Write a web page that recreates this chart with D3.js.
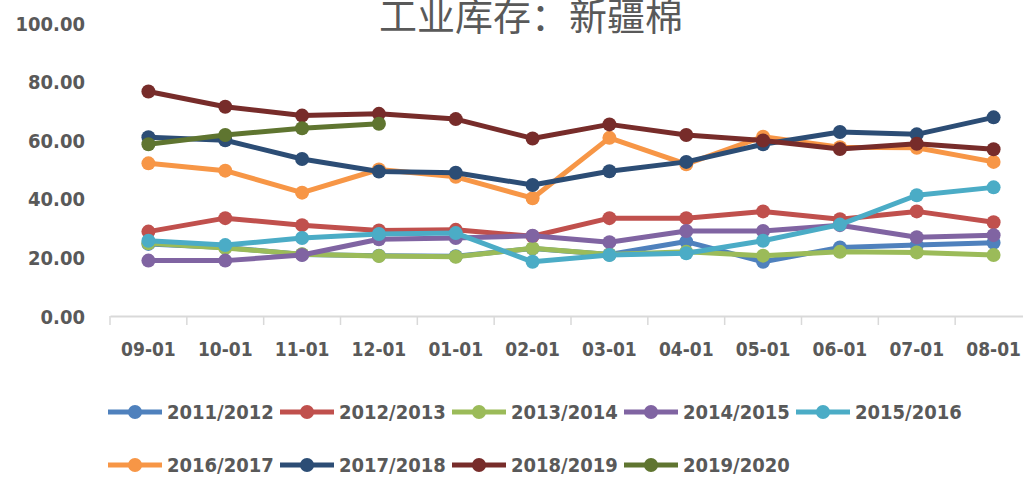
<!DOCTYPE html>
<html>
<head>
<meta charset="utf-8">
<script src="https://cdn.jsdelivr.net/npm/d3@7"></script>
<style>
  body { margin: 0; background: #fff; }
  svg text { font-family: "Liberation Sans Narrow", "DejaVu Sans Condensed", "Noto Sans", sans-serif; }
</style>
</head>
<body>
<svg id="chart" width="1023" height="479"></svg>
<script>
var months = ["09-01","10-01","11-01","12-01","01-01","02-01","03-01","04-01","05-01","06-01","07-01","08-01"];
var seasons = ["2011/2012","2012/2013","2013/2014","2014/2015","2015/2016","2016/2017","2017/2018","2018/2019","2019/2020"];
var colors = ["#4F81BD","#C0504D","#9BBB59","#8064A2","#4BACC6","#F79646","#2C4D75","#772C2A","#5F7530"];
var yTicks = [0, 20, 40, 60, 80, 100];

var s2011 = [24.6, 23.4, 21.0, 20.6, 20.4, 23.0, 21.0, 25.4, 18.5, 23.4, 24.2, 25.0];
var s2012 = [28.8, 33.4, 31.0, 29.2, 29.4, 27.2, 33.4, 33.4, 35.7, 33.0, 35.7, 32.0];
var s2013 = [24.8, 23.2, 21.1, 20.5, 20.2, 23.1, 21.0, 21.9, 20.6, 21.9, 21.7, 20.8];
var s2014 = [18.9, 18.9, 20.8, 26.2, 26.6, 27.4, 25.2, 29.0, 29.0, 31.0, 26.9, 27.6];
var s2015 = [25.7, 24.2, 26.6, 28.0, 28.3, 18.5, 20.8, 21.4, 25.7, 31.2, 41.2, 43.9];
var s2016 = [52.1, 49.6, 42.1, 50.0, 47.5, 40.2, 60.8, 51.8, 61.2, 57.6, 57.4, 52.6];
var s2017 = [61.0, 60.0, 53.6, 49.3, 48.9, 44.7, 49.4, 52.6, 58.6, 62.8, 62.0, 67.8];
var s2018 = [76.6, 71.4, 68.4, 69.0, 67.2, 60.6, 65.4, 61.8, 59.9, 57.0, 58.8, 56.9];
var s2019 = [58.6, 61.8, 64.1, 65.6];

var seriesValues = [s2011, s2012, s2013, s2014, s2015, s2016, s2017, s2018, s2019];

var svg = d3.select("#chart");

var x = d3.scaleBand()
    .domain(months)
    .range([110, 1032])
    .paddingInner(0)
    .paddingOuter(0);

var y = d3.scaleLinear()
    .domain([0, 100])
    .range([316, 23]);

function cx(i) { return x(months[i]) + x.bandwidth() / 2; }

// title (top is clipped in the original too)
svg.append("text")
    .attr("x", 531)
    .attr("y", 30)
    .attr("text-anchor", "middle")
    .attr("fill", "#595959")
    .style("font-family", "'Noto Sans CJK SC', sans-serif")
    .style("font-size", "38px")
    .text("工业库存：新疆棉");

// y axis labels
var yAxis = svg.append("g")
    .attr("transform", "translate(85,0)")
    .call(d3.axisLeft(y).tickValues(yTicks).tickFormat(d3.format(".2f")).tickSize(0).tickPadding(0));
yAxis.select(".domain").remove();
yAxis.selectAll("text")
    .attr("fill", "#595959")
    .attr("dy", "0.35em")
    .style("font-size", "20px")
    .style("font-weight", "bold")
    .style("font-family", "'Liberation Sans Narrow', 'DejaVu Sans Condensed', sans-serif");

// x axis
var xAxis = svg.append("g")
    .attr("transform", "translate(0,316)")
    .call(d3.axisBottom(x).tickSize(0).tickPadding(27));
xAxis.select(".domain").attr("stroke", "#D9D9D9").attr("stroke-width", 2);
xAxis.selectAll("text")
    .attr("fill", "#595959")
    .style("font-size", "19px")
    .style("font-weight", "bold")
    .style("font-family", "'Liberation Sans Narrow', 'DejaVu Sans Condensed', sans-serif");

// tick marks at category edges
xAxis.selectAll(".edge")
    .data(months.concat(["end"]))
    .enter().append("line")
    .attr("class", "edge")
    .attr("x1", function(d, i) { return i < months.length ? x(d) : x.range()[1]; })
    .attr("x2", function(d, i) { return i < months.length ? x(d) : x.range()[1]; })
    .attr("y1", 0)
    .attr("y2", 9)
    .attr("stroke", "#D9D9D9")
    .attr("stroke-width", 1.5);

var line = d3.line()
    .x(function(d, i) { return cx(i); })
    .y(function(d) { return y(d); });

// series: line then markers
seriesValues.forEach(function(vals, k) {
    var g = svg.append("g").attr("class", "series");
    g.append("path")
        .attr("d", line(vals))
        .attr("fill", "none")
        .attr("stroke", colors[k])
        .attr("stroke-width", 5)
        .attr("stroke-linejoin", "round");
    g.selectAll("circle")
        .data(vals)
        .enter().append("circle")
        .attr("cx", function(d, i) { return cx(i); })
        .attr("cy", function(d) { return y(d); })
        .attr("r", 7)
        .attr("fill", colors[k]);
});

// legend
var legend = svg.append("g");
var items = legend.selectAll(".item")
    .data(seasons)
    .enter().append("g")
    .attr("class", "item")
    .attr("transform", function(d, i) {
        var col = i < 5 ? i : i - 5;
        var row = i < 5 ? 0 : 1;
        return "translate(" + (108 + col * 172) + "," + (412 + row * 53) + ")";
    });
items.append("line")
    .attr("x1", 0).attr("x2", 54)
    .attr("y1", 0).attr("y2", 0)
    .attr("stroke", function(d, i) { return colors[i]; })
    .attr("stroke-width", 5);
items.append("circle")
    .attr("cx", 27).attr("cy", 0).attr("r", 7)
    .attr("fill", function(d, i) { return colors[i]; });
items.append("text")
    .attr("x", 59)
    .attr("y", 0)
    .attr("dy", "0.35em")
    .attr("fill", "#595959")
    .style("font-size", "20px")
    .style("font-weight", "bold")
    .text(function(d) { return d; });
</script>
</body>
</html>
